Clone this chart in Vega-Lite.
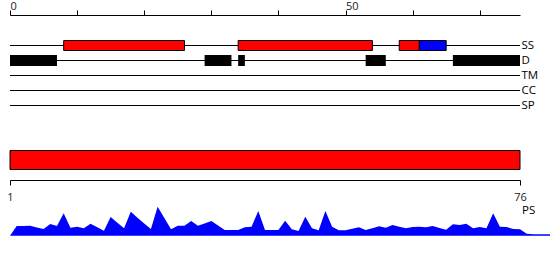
{
  "$schema": "https://vega.github.io/schema/vega-lite/v6.json",
  "width": 510,
  "height": 165,
  "autosize": "none",
  "padding": {"left": 10, "top": 15, "right": 30, "bottom": 80},
  "config": {
    "view": {"stroke": null},
    "axis": {"grid": false, "labelFont": "Open Sans", "labelFontSize": 11, "labelColor": "#222", "domainColor": "#000", "tickColor": "#000", "domainWidth": 1, "tickWidth": 1}
  },
  "datasets": {
    "tracks": [
      {"track": "SS", "start": 0, "end": 76},
      {"track": "D", "start": 0, "end": 76},
      {"track": "TM", "start": 0, "end": 76},
      {"track": "CC", "start": 0, "end": 76},
      {"track": "SP", "start": 0, "end": 76}
    ],
    "ss": [
      {"track": "SS", "type": "helix", "start": 8, "end": 26},
      {"track": "SS", "type": "helix", "start": 34, "end": 54},
      {"track": "SS", "type": "helix", "start": 58, "end": 61},
      {"track": "SS", "type": "strand", "start": 61, "end": 65}
    ],
    "disorder": [
      {"track": "D", "start": 0, "end": 7},
      {"track": "D", "start": 29, "end": 33},
      {"track": "D", "start": 34, "end": 35},
      {"track": "D", "start": 53, "end": 56},
      {"track": "D", "start": 66, "end": 76}
    ],
    "ps": [{"track": "PS", "start": 1, "end": 76}],
    "profile": [
      {"pos": 0, "v": 0}, {"pos": 1, "v": 9.7}, {"pos": 2, "v": 9.8}, {"pos": 3, "v": 10}, {"pos": 4, "v": 8.3},
      {"pos": 5, "v": 6.7}, {"pos": 6, "v": 11.7}, {"pos": 7, "v": 9.7}, {"pos": 8, "v": 22.4}, {"pos": 9, "v": 8},
      {"pos": 10, "v": 9}, {"pos": 11, "v": 7.4}, {"pos": 12, "v": 12}, {"pos": 13, "v": 8.5}, {"pos": 14, "v": 5},
      {"pos": 15, "v": 18.7}, {"pos": 16, "v": 13}, {"pos": 17, "v": 7.4}, {"pos": 18, "v": 24}, {"pos": 19, "v": 18},
      {"pos": 20, "v": 12.3}, {"pos": 21, "v": 6.7}, {"pos": 22, "v": 29}, {"pos": 23, "v": 17.7}, {"pos": 24, "v": 6.4},
      {"pos": 25, "v": 10}, {"pos": 26, "v": 10}, {"pos": 27, "v": 14.7}, {"pos": 28, "v": 10}, {"pos": 29, "v": 12.3},
      {"pos": 30, "v": 14.7}, {"pos": 31, "v": 10.2}, {"pos": 32, "v": 5.7}, {"pos": 33, "v": 5.7}, {"pos": 34, "v": 5.7},
      {"pos": 35, "v": 8.4}, {"pos": 36, "v": 9}, {"pos": 37, "v": 24.7}, {"pos": 38, "v": 5.7}, {"pos": 39, "v": 5.7},
      {"pos": 40, "v": 5.7}, {"pos": 41, "v": 15}, {"pos": 42, "v": 6.4}, {"pos": 43, "v": 4.7}, {"pos": 44, "v": 19},
      {"pos": 45, "v": 7.4}, {"pos": 46, "v": 5.4}, {"pos": 47, "v": 24.7}, {"pos": 48, "v": 9}, {"pos": 49, "v": 5.4},
      {"pos": 50, "v": 5.4}, {"pos": 51, "v": 6.9}, {"pos": 52, "v": 8.4}, {"pos": 53, "v": 5.7}, {"pos": 54, "v": 7.5},
      {"pos": 55, "v": 9.4}, {"pos": 56, "v": 8}, {"pos": 57, "v": 10.7}, {"pos": 58, "v": 9}, {"pos": 59, "v": 7.4},
      {"pos": 60, "v": 8.7}, {"pos": 61, "v": 9}, {"pos": 62, "v": 8.4}, {"pos": 63, "v": 9.7}, {"pos": 64, "v": 7.8},
      {"pos": 65, "v": 6}, {"pos": 66, "v": 11.4}, {"pos": 67, "v": 10.7}, {"pos": 68, "v": 12}, {"pos": 69, "v": 7.4},
      {"pos": 70, "v": 8.7}, {"pos": 71, "v": 7.4}, {"pos": 72, "v": 22.4}, {"pos": 73, "v": 9}, {"pos": 74, "v": 8.7},
      {"pos": 75, "v": 6.7}, {"pos": 76, "v": 6.4}, {"pos": 77, "v": 2}, {"pos": 78, "v": 1.5}, {"pos": 79, "v": 1.5},
      {"pos": 80, "v": 1.5}, {"pos": 81, "v": 1.5}
    ],
    "pslabel": [{"label": "PS"}]
  },
  "layer": [
    {
      "encoding": {
        "x": {
          "field": "start", "type": "quantitative",
          "scale": {"domain": [0, 76], "nice": false, "zero": false},
          "axis": {"orient": "top", "title": null, "values": [0, 10, 20, 30, 40, 50, 60, 70], "tickSize": 5, "labelAlign": "left", "labelBaseline": "alphabetic", "labelPadding": 0.5, "labelFlush": false, "labelOverlap": false, "labelExpr": "datum.value == 0 || datum.value == 50 ? datum.label : ''"}
        },
        "x2": {"field": "end"},
        "y": {
          "field": "track", "type": "nominal",
          "scale": {"type": "band", "domain": ["SS", "D", "TM", "CC", "SP"], "range": [23, 98], "paddingInner": 0, "paddingOuter": 0},
          "axis": {"orient": "right", "title": null, "domain": false, "ticks": false, "labelPadding": 1, "labelFontSize": 11.5, "labelColor": "#000"}
        }
      },
      "layer": [
        {"data": {"name": "tracks"}, "mark": {"type": "rule", "color": "#000", "strokeWidth": 1}},
        {
          "data": {"name": "ss"},
          "mark": {"type": "bar", "height": 10, "stroke": "#000", "strokeWidth": 1, "cornerRadius": 0},
          "encoding": {
            "color": {"field": "type", "type": "nominal", "scale": {"domain": ["helix", "strand"], "range": ["#ff0000", "#0000ff"]}, "legend": null}
          }
        },
        {"data": {"name": "disorder"}, "mark": {"type": "bar", "height": 11, "color": "#000"}}
      ]
    },
    {
      "data": {"name": "ps"},
      "mark": {"type": "bar", "color": "#ff0000", "stroke": "#000", "strokeWidth": 1},
      "encoding": {
        "x": {
          "field": "start", "type": "quantitative",
          "scale": {"domain": [1, 76], "nice": false, "zero": false},
          "axis": {"orient": "bottom", "title": null, "values": [1, 76], "tickSize": 5, "labelBaseline": "alphabetic", "labelPadding": 15, "labelFlush": false, "labelOverlap": false}
        },
        "x2": {"field": "end"},
        "y": {
          "field": "track", "type": "nominal",
          "scale": {"type": "band", "domain": ["PS"], "range": [135.5, 154.5], "paddingInner": 0, "paddingOuter": 0},
          "axis": null
        }
      }
    },
    {
      "layer": [
        {
          "data": {"name": "profile"},
          "mark": {"type": "area", "color": "#0000ff", "clip": false},
          "encoding": {
            "x": {"field": "pos", "type": "quantitative", "scale": {"domain": [0, 76], "nice": false, "zero": false}, "axis": null},
            "y": {"field": "v", "type": "quantitative", "scale": {"domain": [0, 30], "range": [220.7, 190.7], "nice": false}, "axis": null}
          }
        },
        {
          "data": {"name": "pslabel"},
          "mark": {"type": "text", "font": "Open Sans", "fontSize": 11.5, "align": "left", "baseline": "middle", "dx": 2, "color": "#000"},
          "encoding": {
            "x": {"datum": 76, "type": "quantitative"},
            "y": {"datum": 24.5, "type": "quantitative"},
            "text": {"field": "label"}
          }
        }
      ]
    }
  ],
  "resolve": {"scale": {"x": "independent", "y": "independent"}, "axis": {"x": "independent", "y": "independent"}}
}
